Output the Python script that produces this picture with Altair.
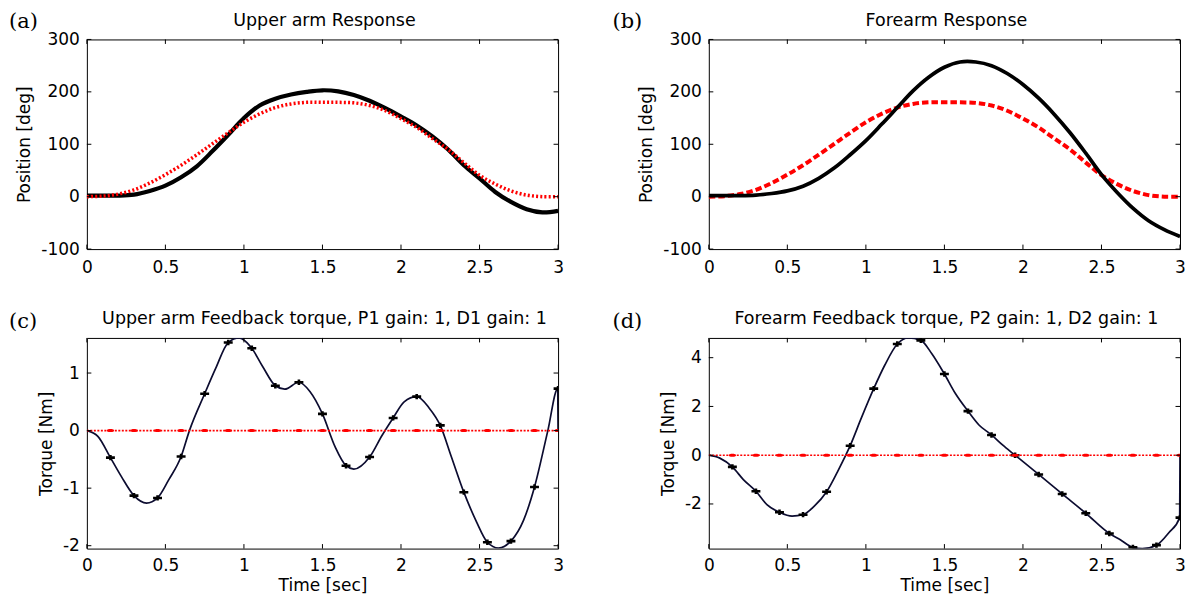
import altair as alt
import pandas as pd

# ---------------- data ----------------
T_POS = [0.0, 0.1, 0.2, 0.3, 0.4, 0.5, 0.6, 0.7, 0.8, 0.9, 1.0,
         1.1, 1.2, 1.3, 1.4, 1.5, 1.6, 1.7, 1.8, 1.9, 2.0,
         2.1, 2.2, 2.3, 2.4, 2.5, 2.6, 2.7, 2.8, 2.9, 3.0]
REF_POS = [0, 1, 5, 13, 26, 42, 60, 80, 101, 122, 142,
           158, 170, 177, 180, 180, 180, 179, 174, 164, 149,
           132, 111, 90, 65, 41, 24, 11, 3, 0, 0]
UPPER_POS = [2, 2, 2, 4, 11, 21, 37, 58, 87, 118, 150,
             174, 187, 195, 200, 203, 201, 194, 183, 169, 153,
             136, 115, 90, 60, 35, 9, -10, -24, -30, -27]
FORE_POS = [2, 2, 2, 3, 6, 11, 20, 35, 55, 80, 107,
            138, 170, 202, 228, 247, 257, 257, 250, 235, 214,
            188, 157, 122, 83, 42, 8, -22, -46, -63, -76]

UPPER_TQ_T = [0.0, 0.07, 0.15, 0.22, 0.3, 0.38, 0.45, 0.52, 0.6, 0.653, 0.75,
              0.82, 0.9, 0.97, 1.05, 1.12, 1.2, 1.26, 1.35, 1.42, 1.5,
              1.58, 1.65, 1.7, 1.8, 1.88, 1.95, 2.02, 2.1, 2.18, 2.25,
              2.32, 2.4, 2.48, 2.55, 2.62, 2.7, 2.78, 2.85, 2.935, 2.998, 3.0]
UPPER_TQ_V = [0.0, -0.1, -0.47, -0.8, -1.13, -1.26, -1.17, -0.86, -0.45, 0.0, 0.64,
              1.08, 1.53, 1.61, 1.43, 1.11, 0.78, 0.72, 0.84, 0.68, 0.29,
              -0.28, -0.61, -0.67, -0.46, -0.08, 0.22, 0.5, 0.59, 0.39, 0.09,
              -0.45, -1.07, -1.58, -1.94, -2.04, -1.92, -1.56, -0.98, 0.0, 0.73, 0.0]

FORE_TQ_T = [0.0, 0.07, 0.15, 0.22, 0.3, 0.37, 0.45, 0.53, 0.6, 0.67, 0.75,
             0.82, 0.9, 0.97, 1.05, 1.12, 1.2, 1.27, 1.35, 1.42, 1.5,
             1.57, 1.65, 1.72, 1.8, 1.87, 1.95, 2.1, 2.25, 2.4, 2.55,
             2.62, 2.7, 2.76, 2.85, 2.93, 2.998, 3.0]
FORE_TQ_V = [0.0, -0.12, -0.48, -1.0, -1.48, -2.03, -2.34, -2.5, -2.44, -2.1, -1.5,
             -0.67, 0.39, 1.51, 2.73, 3.69, 4.56, 4.81, 4.71, 4.16, 3.33,
             2.53, 1.81, 1.24, 0.83, 0.42, 0.0, -0.79, -1.59, -2.38, -3.21,
             -3.47, -3.78, -3.83, -3.69, -3.17, -2.56, 0.0]

MARK_T = [0.15, 0.3, 0.45, 0.6, 0.75, 0.9, 1.05, 1.2, 1.35, 1.5,
          1.65, 1.8, 1.95, 2.1, 2.25, 2.4, 2.55, 2.7, 2.85, 3.0]
UPPER_TQ_MARK = [-0.47, -1.13, -1.17, -0.45, 0.64, 1.53, 1.43, 0.78, 0.84, 0.29,
                 -0.61, -0.46, 0.22, 0.59, 0.09, -1.07, -1.94, -1.92, -0.98, 0.73]
FORE_TQ_MARK = [-0.48, -1.48, -2.34, -2.44, -1.5, 0.39, 2.73, 4.56, 4.71, 3.33,
                1.81, 0.83, 0.0, -0.79, -1.59, -2.38, -3.21, -3.78, -3.69, -2.56]
REF_TQ_T = [0.0, 3.0]
REF_TQ_V = [0, 0]
REF_TQ_MARK = [0, 0, 0, 0, 0, 0, 0, 0, 0, 0, 0, 0, 0, 0, 0, 0, 0, 0, 0, 0]

X_TICKS = [0, 0.5, 1, 1.5, 2, 2.5, 3]
Y_TICKS_POS = [-100, 0, 100, 200, 300]
Y_TICKS_UT = [-2, -1, 0, 1]
Y_TICKS_FT = [-2, 0, 2, 4]

TITLES = ["Upper arm Response", "Forearm Response",
          "Upper arm Feedback torque, P1 gain: 1, D1 gain: 1",
          "Forearm Feedback torque, P2 gain: 1, D2 gain: 1"]
TAGS = ["(a)", "(b)", "(c)", "(d)"]

# ---------------- layout constants ----------------
W = 472
H_TOP = 210
H_BOT = 211
TICK = 4.5
NAVY = "#0c0c30"
PLUS = "M-1,0H1M0,-0.6V0.6"
DIAM = "M-1,0C-1,-0.55 1,-0.55 1,0C1,0.55 -1,0.55 -1,0Z"


def panel(series, ydom, yticks, ytitle, xtitle, title, tag, h,
          tag_dx, tag_dy, title_dy, xpad):
    x_axis = dict(values=X_TICKS, labelExpr="'' + datum.value", ticks=False,
                  domain=False, grid=False, labelPadding=xpad, labelFlush=False,
                  labelOverlap=False, title=xtitle)
    if xtitle is not None:
        x_axis["titlePadding"] = 4
    X = alt.X("t:Q", scale=alt.Scale(domain=[0, 3], nice=False, zero=False),
              axis=alt.Axis(**x_axis))
    Y = alt.Y("v:Q", scale=alt.Scale(domain=ydom, nice=False, zero=False),
              axis=alt.Axis(values=yticks, labelExpr="'' + datum.value", ticks=False,
                            domain=False, grid=False, labelPadding=7.5,
                            labelFlush=False, labelOverlap=False,
                            title=ytitle, titlePadding=7))
    layers = []
    for s in series:
        df = pd.DataFrame({"t": s["t"], "v": s["v"], "i": list(range(len(s["t"])))})
        if s["kind"] == "line":
            kw = dict(color=s["color"], strokeWidth=s["w"], clip=True,
                      interpolate=s.get("interp", "monotone"), strokeCap="butt")
            if "dash" in s:
                kw["strokeDash"] = s["dash"]
            layers.append(alt.Chart(df).mark_line(**kw).encode(
                x=X, y=Y, order=alt.Order("i:Q")))
        else:
            kw = dict(shape=s["shape"], size=s["size"], clip=True, opacity=1)
            if s["filled"]:
                kw.update(filled=True, color=s["color"])
            else:
                kw.update(filled=False, stroke=s["color"], strokeWidth=2.6)
            layers.append(alt.Chart(df).mark_point(**kw).encode(x=X, y=Y))
    xt = pd.DataFrame({"t": X_TICKS})
    yt = pd.DataFrame({"v": yticks})
    rule = dict(color="black", strokeWidth=1)
    layers += [
        alt.Chart(xt).mark_rule(**rule).encode(x=X, y=alt.value(0), y2=alt.value(TICK)),
        alt.Chart(xt).mark_rule(**rule).encode(x=X, y=alt.value(h), y2=alt.value(h - TICK)),
        alt.Chart(yt).mark_rule(**rule).encode(y=Y, x=alt.value(0), x2=alt.value(TICK)),
        alt.Chart(yt).mark_rule(**rule).encode(y=Y, x=alt.value(W), x2=alt.value(W - TICK)),
        alt.Chart(pd.DataFrame({"s": [title]})).mark_text(
            font="DejaVu Sans", fontSize=17.5, align="center", baseline="alphabetic",
            color="black").encode(text="s:N", x=alt.value(W / 2 + 2), y=alt.value(title_dy)),
        alt.Chart(pd.DataFrame({"s": [tag]})).mark_text(
            font="DejaVu Serif", fontSize=21, align="left", baseline="alphabetic",
            color="black").encode(text="s:N", x=alt.value(tag_dx), y=alt.value(tag_dy)),
    ]
    return alt.layer(*layers).properties(width=W, height=h)


pa = panel([
    dict(kind="line", t=T_POS, v=UPPER_POS, color="black", w=4.2, interp="catmull-rom"),
    dict(kind="line", t=T_POS, v=REF_POS, color="#ff0000", w=3.5, dash=[2, 2.2],
         interp="catmull-rom"),
], [-100, 300], Y_TICKS_POS, "Position [deg]", None, TITLES[0], TAGS[0], H_TOP,
    -78, -11, -13.5, 10.5)

pb = panel([
    dict(kind="line", t=T_POS, v=REF_POS, color="#ff0000", w=4, dash=[6.5, 3],
         interp="catmull-rom"),
    dict(kind="line", t=T_POS, v=FORE_POS, color="black", w=3.7, interp="catmull-rom"),
], [-100, 300], Y_TICKS_POS, "Position [deg]", None, TITLES[1], TAGS[1], H_TOP,
    -96.5, -11, -13.5, 10.5)

pc = panel([
    dict(kind="line", t=UPPER_TQ_T, v=UPPER_TQ_V, color=NAVY, w=1.7),
    dict(kind="point", t=MARK_T, v=UPPER_TQ_MARK, color="black", shape=PLUS, size=80, filled=False),
    dict(kind="line", t=REF_TQ_T, v=REF_TQ_V, color="#ff0000", w=1.6, dash=[2, 1.5]),
    dict(kind="point", t=MARK_T, v=REF_TQ_MARK, color="#ff0000", shape=DIAM, size=55, filled=True),
], [-2.05, 1.61], Y_TICKS_UT, "Torque [Nm]", "Time [sec]", TITLES[2], TAGS[2], H_BOT,
    -78, -10, -14, 9)

pd_ = panel([
    dict(kind="line", t=FORE_TQ_T, v=FORE_TQ_V, color=NAVY, w=1.7),
    dict(kind="point", t=MARK_T, v=FORE_TQ_MARK, color="black", shape=PLUS, size=80, filled=False),
    dict(kind="line", t=REF_TQ_T, v=REF_TQ_V, color="#ff0000", w=1.6, dash=[2, 1.5]),
    dict(kind="point", t=MARK_T, v=REF_TQ_MARK, color="#ff0000", shape=DIAM, size=55, filled=True),
], [-3.83, 4.81], Y_TICKS_FT, "Torque [Nm]", "Time [sec]", TITLES[3], TAGS[3], H_BOT,
    -96.5, -10, -14, 9)

chart = alt.vconcat(
    alt.hconcat(pa, pb, spacing=48),
    alt.hconcat(pc, pd_, spacing=48),
    spacing=33,
).properties(
    padding={"left": 0, "top": 2, "right": 0, "bottom": 0}
).configure_view(
    stroke="black", strokeWidth=1
).configure_axis(
    labelFont="DejaVu Sans", labelFontSize=17, labelColor="black",
    titleFont="DejaVu Sans", titleFontSize=17, titleFontWeight="normal", titleColor="black"
)

chart.save("out.html", embed_options={"renderer": "svg", "actions": False})
